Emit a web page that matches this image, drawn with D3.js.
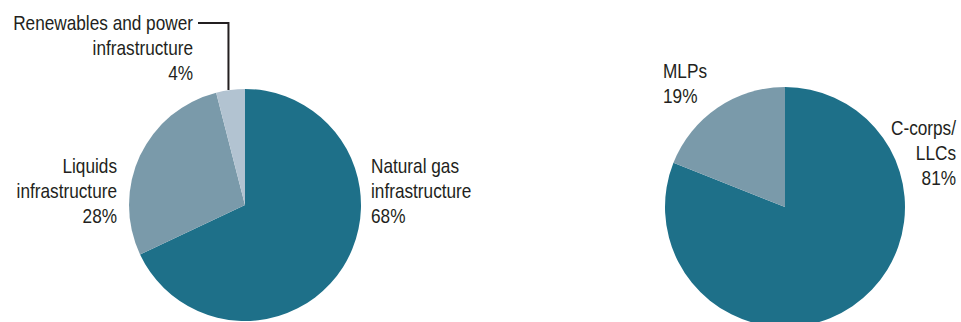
<!DOCTYPE html>
<html>
<head>
<meta charset="utf-8">
<script src="https://cdn.jsdelivr.net/npm/d3@7"></script>
<style>
  body { margin: 0; background: #fff; }
  svg text { font-family: "Liberation Sans", Arial, sans-serif; fill: #231f20; }
</style>
</head>
<body>
<svg id="svg1"></svg>
<script>
// data
var assetCats = ["Natural gas infrastructure", "Liquids infrastructure", "Renewables and power infrastructure"];
var assetVals = [68, 28, 4];
var corpCats = ["C-corps/LLCs", "MLPs"];
var corpVals = [81, 19];

var width = 961, height = 322;
var fontsize = 21, lineh = 25;
var narrow = 0.82; // squeeze text to mimic Arial Narrow
var colors = ["#1e7089", "#7a9aaa", "#b2c3d1"];

var svg = d3.select("#svg1")
  .attr("width", width)
  .attr("height", height);

var pie = d3.pie().sort(null).value(d => d.v);

function drawPie(cats, vals, cx, cy, r) {
  var data = cats.map((c, i) => ({c: c, v: vals[i], i: i}));
  var arcs = pie(data);
  var arc = d3.arc().innerRadius(0).outerRadius(r);
  var g = svg.append("g").attr("transform", `translate(${cx},${cy})`);
  g.selectAll("path")
    .data(arcs)
    .enter()
    .append("path")
      .attr("d", arc)
      .style("fill", d => colors[d.data.i])
  return {arcs: arcs, arc: arc, g: g};
}

// multi-line label, lines = array of strings
function label(lines, x, y, anchor) {
  var t = svg.append("text")
    .attr("transform", `translate(${x},${y}) scale(${narrow},1)`)
    .style("font-size", fontsize)
    .style("text-anchor", anchor);
  t.selectAll("tspan")
    .data(lines)
    .enter()
    .append("tspan")
      .attr("x", 0)
      .attr("dy", (d, i) => i === 0 ? 0 : lineh)
      .text(d => d);
}

// left pie
var leftR = 116;
var left = drawPie(assetCats, assetVals, 245, 205, leftR);
label(["Natural gas", "infrastructure", assetVals[0] + "%"], 371, 173, "start");
label(["Liquids", "infrastructure", assetVals[1] + "%"], 117, 173, "end");
label(["Renewables and power", "infrastructure", assetVals[2] + "%"], 193, 30, "end");

// leader for the small slice
var small = left.arcs[2];
var mid = (small.startAngle + small.endAngle) / 2;
var lx = 245 + leftR * Math.sin(mid) - 2;
var ly = 205 - leftR * Math.cos(mid);
svg.append("path")
  .attr("d", `M198,23 H${lx} V${ly}`)
  .style("fill", "none")
  .style("stroke", "#231f20")
  .style("stroke-width", 2);

// right pie
var right = drawPie(corpCats, corpVals, 785, 207, 120);
label(["C-corps/", "LLCs", corpVals[0] + "%"], 956, 135, "end");
label(["MLPs", corpVals[1] + "%"], 663, 78, "start");
</script>
</body>
</html>
